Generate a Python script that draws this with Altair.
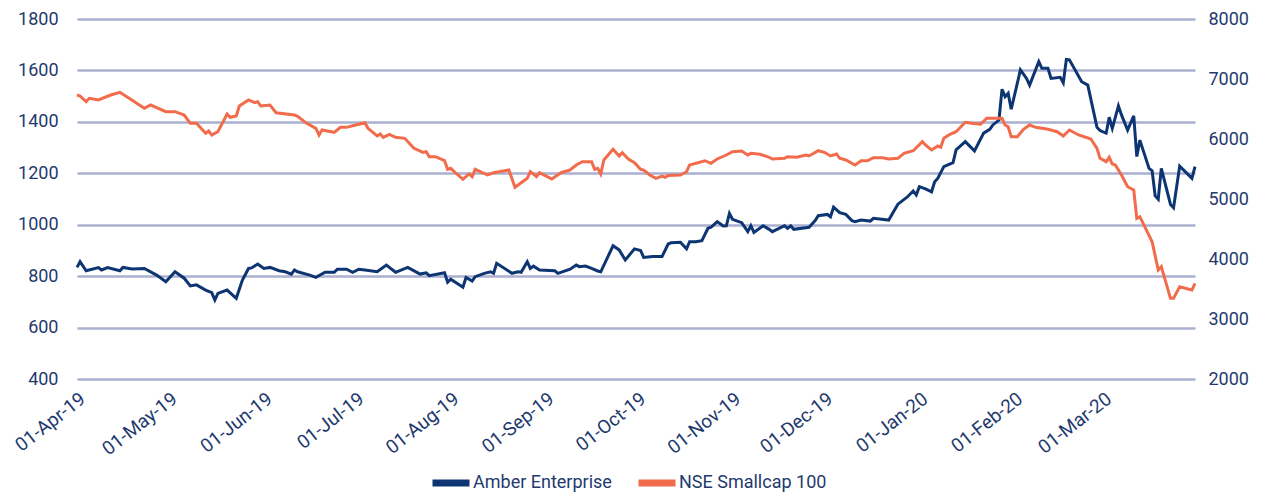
import altair as alt
import pandas as pd

# Day offsets from 01-Apr-2019 and values
amber_day = [0, 1, 3, 7, 8, 10, 14, 15, 18, 22, 26, 29, 32, 35, 37, 39, 42, 44, 45, 46,
             49, 52, 54, 56, 57, 59, 61, 63, 66, 68, 70, 71, 72, 76, 78, 81, 84, 85, 88, 90,
             92, 94, 98, 101, 104, 108, 112, 114, 115, 120, 121, 122, 126, 127, 129, 130, 133, 135, 136, 137,
             142, 144, 145, 147, 148, 149, 151, 156, 157, 161, 163, 164, 166, 168, 170, 171, 175, 177, 179, 182,
             184, 185, 188, 191, 193, 194, 197, 199, 200, 202, 204, 206, 207, 209, 211, 212, 213, 214, 217, 219,
             220, 221, 224, 226, 227, 231, 232, 233, 234, 239, 241, 242, 245, 246, 247, 249, 251, 253, 254, 256,
             259, 260, 265, 268, 271, 273, 274, 275, 277, 279, 280, 281, 283, 286, 287, 290, 293, 296, 298, 299,
             301, 302, 303, 304, 305, 308, 310, 311, 314, 315, 317, 318, 321, 322, 323, 324, 328, 330, 333, 334,
             336, 337, 338, 340, 341, 343, 345, 346, 347, 350, 351, 352, 353, 354, 357, 358, 360, 364, 365]
amber_price = [834, 856, 821, 833, 824, 833, 821, 834, 828, 830, 804, 778, 817, 792, 762, 766, 746, 736, 707, 733,
               746, 714, 785, 830, 832, 847, 830, 834, 821, 817, 808, 824, 817, 804, 795, 815, 815, 827, 827, 815,
               827, 824, 817, 843, 815, 834, 808, 813, 802, 813, 776, 788, 757, 795, 781, 798, 811, 817, 811, 850,
               811, 817, 815, 856, 830, 839, 824, 821, 811, 827, 843, 837, 839, 830, 820, 817, 918, 902, 863, 906,
               900, 873, 876, 876, 925, 930, 932, 906, 934, 934, 938, 986, 990, 1012, 995, 996, 1044, 1021, 1008, 973,
               996, 970, 996, 982, 973, 996, 986, 996, 982, 990, 1016, 1035, 1040, 1031, 1068, 1047, 1040, 1016, 1012, 1018,
               1014, 1025, 1018, 1080, 1107, 1131, 1116, 1148, 1139, 1128, 1167, 1180, 1226, 1241, 1291, 1323, 1287, 1356, 1371, 1388,
               1407, 1527, 1498, 1511, 1449, 1602, 1569, 1543, 1634, 1608, 1608, 1569, 1573, 1552, 1643, 1641, 1556, 1543, 1379, 1366,
               1356, 1418, 1375, 1462, 1427, 1368, 1423, 1265, 1329, 1219, 1210, 1112, 1099, 1219, 1079, 1066, 1228, 1180, 1226]

nse_day = [0, 1, 3, 4, 7, 11, 14, 17, 22, 24, 29, 32, 35, 37, 39, 42, 43, 44, 46, 49,
           50, 52, 53, 56, 58, 59, 60, 63, 65, 71, 72, 75, 78, 79, 80, 84, 86, 88, 91, 94,
           95, 98, 99, 100, 102, 104, 107, 110, 113, 114, 115, 117, 120, 121, 122, 124, 126, 128, 129, 130,
           134, 136, 141, 143, 147, 148, 150, 151, 155, 158, 161, 163, 165, 168, 169, 170, 171, 172, 175, 177,
           178, 180, 182, 184, 185, 187, 189, 191, 192, 193, 197, 199, 200, 205, 207, 209, 212, 214, 217, 219,
           220, 223, 226, 227, 231, 232, 235, 238, 239, 242, 244, 246, 248, 249, 251, 254, 256, 258, 260, 263,
           265, 268, 270, 273, 276, 277, 279, 281, 282, 283, 285, 287, 290, 292, 295, 297, 302, 303, 304, 305,
           307, 309, 311, 313, 315, 317, 320, 322, 324, 327, 331, 333, 334, 336, 337, 338, 339, 341, 343, 345,
           346, 347, 351, 353, 354, 357, 358, 360, 364, 365]
nse_value = [6733, 6717, 6622, 6678, 6650, 6733, 6778, 6678, 6511, 6567, 6456, 6456, 6400, 6261, 6261, 6095, 6133, 6067, 6122, 6417,
             6362, 6383, 6550, 6650, 6605, 6622, 6550, 6567, 6438, 6400, 6380, 6261, 6178, 6067, 6150, 6111, 6194, 6194, 6233, 6272,
             6178, 6050, 6083, 6028, 6078, 6028, 6011, 5845, 5778, 5790, 5705, 5705, 5638, 5495, 5512, 5417, 5328, 5417, 5372, 5495,
             5400, 5438, 5483, 5195, 5345, 5455, 5372, 5438, 5333, 5438, 5483, 5567, 5622, 5622, 5495, 5512, 5417, 5650, 5828, 5717,
             5772, 5667, 5605, 5495, 5483, 5400, 5345, 5383, 5362, 5390, 5400, 5455, 5567, 5638, 5595, 5667, 5733, 5788, 5800, 5733,
             5761, 5745, 5695, 5667, 5678, 5705, 5695, 5733, 5717, 5805, 5778, 5717, 5750, 5678, 5650, 5567, 5638, 5638, 5689, 5689,
             5667, 5678, 5761, 5805, 5955, 5900, 5817, 5883, 5861, 6011, 6078, 6122, 6278, 6261, 6245, 6345, 6345, 6233, 6205, 6038,
             6038, 6161, 6233, 6195, 6178, 6161, 6122, 6050, 6150, 6067, 6000, 5845, 5678, 5622, 5695, 5583, 5567, 5400, 5205, 5150,
             4678, 4705, 4288, 3817, 3872, 3345, 3345, 3538, 3483, 3595]

series_names = ["Amber Enterprise", "NSE Smallcap 100"]
left_ticks = [400, 600, 800, 1000, 1200, 1400, 1600, 1800]
right_ticks = [2000, 3000, 4000, 5000, 6000, 7000, 8000]

NAVY = "#0D3572"
ORANGE = "#F26B4B"
TEXT = "#1F3A6E"
GRID = "#ABAFD0"
FONT = "Roboto"

start = pd.Timestamp("2019-04-01")
amber = pd.DataFrame({"date": start + pd.to_timedelta(amber_day, unit="D"),
                      "value": amber_price, "series": series_names[0]})
nse = pd.DataFrame({"date": start + pd.to_timedelta(nse_day, unit="D"),
                    "value": nse_value, "series": series_names[1]})

x_enc = alt.X(
    "date:T",
    scale=alt.Scale(domain=[alt.DateTime(year=2019, month=4, date=1),
                            alt.DateTime(year=2020, month=3, date=31)]),
    axis=alt.Axis(format="%d-%b-%y", labelAngle=-38, tickCount={"interval": "month", "step": 1},
                  grid=False, domain=False, ticks=False, title=None, labelFont=FONT,
                  labelFontSize=19, labelColor=TEXT, labelPadding=10, labelOverlap=False,
                  labelAlign="right", labelBaseline="top"),
)

color_enc = alt.Color(
    "series:N",
    scale=alt.Scale(domain=series_names, range=[NAVY, ORANGE]),
    legend=alt.Legend(title=None, orient="none", legendX=352, legendY=442, direction="horizontal",
                      symbolType="stroke", symbolStrokeWidth=7, symbolSize=1369,
                      labelFont=FONT, labelFontSize=18, labelColor=TEXT, labelOffset=0,
                      columnPadding=12, padding=0),
)

left = alt.Chart(amber).mark_line(strokeWidth=3).encode(
    x=x_enc,
    y=alt.Y("value:Q", scale=alt.Scale(domain=[400, 1800]),
            axis=alt.Axis(values=left_ticks, format="d", grid=True, gridColor=GRID, gridWidth=2.5,
                          domain=False, ticks=False, title=None, labelFont=FONT,
                          labelFontSize=18, labelColor=TEXT, labelPadding=19)),
    color=color_enc,
)

right = alt.Chart(nse).mark_line(strokeWidth=3).encode(
    x=x_enc,
    y=alt.Y("value:Q", scale=alt.Scale(domain=[2000, 8000]),
            axis=alt.Axis(values=right_ticks, format="d", orient="right", grid=False,
                          domain=False, ticks=False, title=None, labelFont=FONT,
                          labelFontSize=18, labelColor=TEXT, labelPadding=13)),
    color=color_enc,
)

chart = (
    alt.layer(left, right)
    .resolve_scale(y="independent")
    .properties(width=1118, height=360, autosize=alt.AutoSizeParams(type="none"),
                padding={"left": 69, "top": 11, "right": 62, "bottom": 115})
    .configure_view(stroke=None)
)

chart.save("out.html", embed_options={"renderer": "svg", "actions": False})
